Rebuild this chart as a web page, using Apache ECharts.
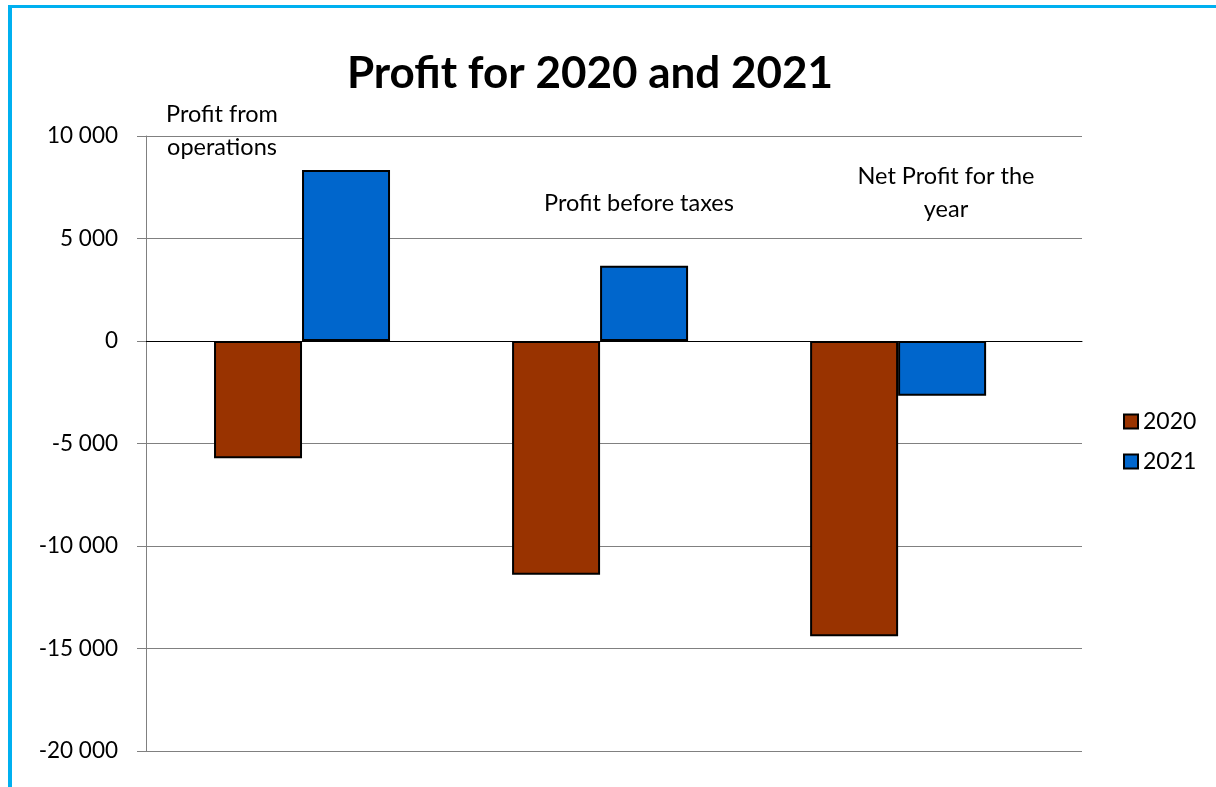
<!DOCTYPE html>
<html>
<head>
<meta charset="utf-8">
<script src="https://cdn.jsdelivr.net/npm/echarts@6/dist/echarts.min.js"></script>
<style>
  html, body { margin: 0; padding: 0; background: #fff; }
  #chart { width: 1216px; height: 787px; }
</style>
</head>
<body>
<div id="chart"></div>
<script>
// Profit figures per line item, by year
const categories = ['Profit from\noperations', 'Profit before taxes', 'Net Profit for the\nyear'];
const years = ['2020', '2021'];
const values2020 = [-5720, -11400, -14400];
const values2021 = [8340, 3670, -2670];
const yTicks = { min: -20000, max: 10000, step: 5000 };

const FONT = 'Lato, "Open Sans", sans-serif';

function fmtThousands(v) {
  const s = String(Math.abs(v)).replace(/\B(?=(\d{3})+(?!\d))/g, ' ');
  return (v < 0 ? '-' : '') + s;
}

// Category positions on a numeric x axis, so group centres can be spaced freely
const toPairs = arr => arr.map((v, i) => [i, v]);

// Hand-placed captions for each category group
const captionPos = [
  { x: 222, y: 131 },
  { x: 639, y: 203 },
  { x: 946, y: 193 }
];

const chart = echarts.init(document.getElementById('chart'), null, { renderer: 'canvas' });

chart.setOption({
  animation: false,
  backgroundColor: '#fff',
  title: {
    text: 'Profit for 2020 and 2021',
    left: 585,
    top: 47,
    textAlign: 'center',
    textStyle: { fontFamily: FONT, fontWeight: 'bold', fontSize: 44, color: '#000' }
  },
  legend: {
    orient: 'vertical',
    left: 1118,
    top: 405,
    itemWidth: 14,
    itemHeight: 14,
    itemGap: 17,
    icon: 'rect',
    data: years,
    textStyle: { fontFamily: FONT, fontSize: 23, color: '#000', padding: [0, 0, 0, 0] }
  },
  grid: { left: 146, right: 134, top: 136, bottom: 36, containLabel: false },
  xAxis: {
    type: 'value',
    min: -0.5235,
    max: 2.617,
    axisLine: { show: true, onZero: true, lineStyle: { color: '#000', width: 1 } },
    axisTick: { show: false },
    axisLabel: { show: false },
    splitLine: { show: false }
  },
  yAxis: {
    type: 'value',
    min: yTicks.min,
    max: yTicks.max,
    interval: yTicks.step,
    axisLine: { show: true, onZero: false, lineStyle: { color: '#808080', width: 1 } },
    axisTick: { show: true, length: 9, lineStyle: { color: '#808080' } },
    axisLabel: {
      fontFamily: FONT, fontSize: 22.5, color: '#000', margin: 28,
      formatter: fmtThousands
    },
    splitLine: { show: true, lineStyle: { color: '#808080', width: 1 } }
  },
  series: [
    {
      name: years[0],
      type: 'bar',
      data: toPairs(values2020),
      barWidth: 88,
      barGap: '0%',
      itemStyle: { color: '#993300', borderColor: '#000', borderWidth: 2 }
    },
    {
      name: years[1],
      type: 'bar',
      data: toPairs(values2021),
      barWidth: 88,
      barGap: '0%',
      itemStyle: { color: '#0066cc', borderColor: '#000', borderWidth: 2 }
    }
  ],
  graphic: [
    {
      type: 'rect',
      silent: true,
      shape: { x: 8, y: 5, width: 4, height: 782 },
      style: { fill: '#00b0f0' }
    },
    {
      type: 'rect',
      silent: true,
      shape: { x: 8, y: 5, width: 1208, height: 3 },
      style: { fill: '#00b0f0' }
    }
  ].concat(categories.map((name, i) => ({
    type: 'text',
    silent: true,
    x: captionPos[i].x,
    y: captionPos[i].y,
    style: {
      text: name,
      fontFamily: FONT,
      fontSize: 23.5,
      lineHeight: 33,
      fill: '#000',
      align: 'center',
      verticalAlign: 'middle'
    }
  })))
});
</script>
</body>
</html>
